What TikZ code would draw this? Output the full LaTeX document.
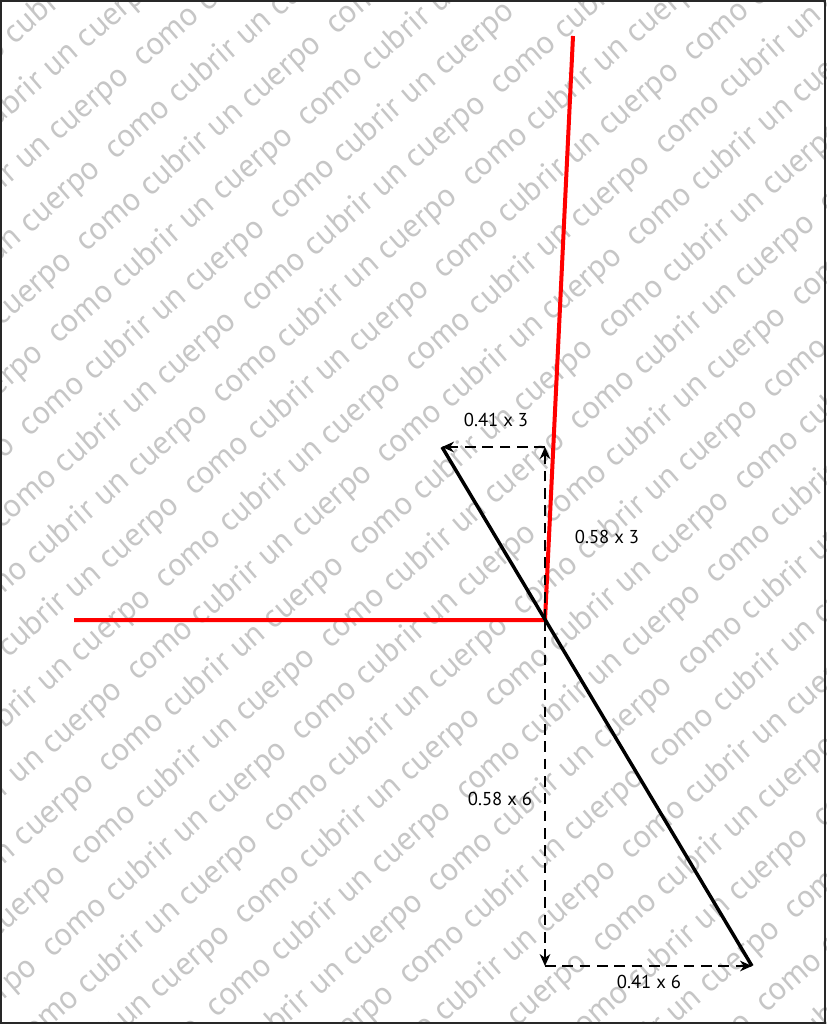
\documentclass[tikz,border=0pt]{standalone}
\usepackage{fontspec}
\setmainfont{PT Sans}
\usetikzlibrary{arrows.meta}

\definecolor{wmgray}{RGB}{198,198,198}
\definecolor{framegray}{RGB}{40,40,40}

\newcommand{\wmfont}{\fontsize{24.5}{28}\selectfont}
\newcommand{\wmunit}{como cubrir un cuerpo\ \ }
\newcommand{\wmrow}{\wmunit\wmunit\wmunit\wmunit\wmunit\wmunit\wmunit}
\newlength{\wmper}

\tikzset{
  redline/.style={draw=red, line width=3pt},
  vecline/.style={draw=black, line width=2.6pt},
  dimarrow/.style={draw=black, line width=1.2pt, dash pattern=on 8pt off 5pt, -{Stealth[length=9pt,width=8pt]}},
  dimlabel/.style={inner sep=0.75pt, font=\fontsize{14}{16}\selectfont},
  wmark/.style={text=wmgray, font=\wmfont, rotate=41, inner sep=0pt, anchor=base west}
}

\begin{document}
\settowidth{\wmper}{\wmfont\wmunit}%
\pgfmathsetmacro{\wmP}{max(\wmper/0.75,100)}%
\begin{tikzpicture}[x=0.75pt,y=0.75pt,yscale=-1,xscale=1]
\useasboundingbox (0,0) rectangle (826,1024);

% watermark
\begin{scope}
\clip (0,0) rectangle (826,1024);
\foreach \j in {-10,...,16} {
  \pgfmathsetmacro{\s}{-82*\j-\wmP*floor(-82*\j/\wmP)-3*\wmP}
  \node[wmark] (wm\j) at ({194+51*\j*0.6561+\s*0.7547},{497+51*\j*0.7547-\s*0.6561}) {\wmrow};
}
\end{scope}

% points
\coordinate (O) at (545,620);
\coordinate (redtop) at (573,36);
\coordinate (redleft) at (74,620);
\coordinate (vtop) at (442,447);
\coordinate (vbot) at (752,966);
\coordinate (ctop) at (545,447);
\coordinate (cbot) at (545,966);

% axes
\draw[redline] (redleft) -- (O) -- (redtop);
% vector
\draw[vecline] (vtop) -- (vbot);

% components
\draw[dimarrow] (O) -- (ctop);
\draw[dimarrow] (ctop) -- (vtop);
\draw[dimarrow] (O) -- (cbot);
\draw[dimarrow] (cbot) -- (vbot);

% labels
\node[dimlabel] (lxtop) at (496,420) {0.41 x 3};
\node[dimlabel] (lytop) at (607,537) {0.58 x 3};
\node[dimlabel] (lybot) at (500,799) {0.58 x 6};
\node[dimlabel] (lxbot) at (649,982) {0.41 x 6};

% frame
\draw[framegray, line width=1.5pt] (1,1) rectangle (825,1023);
\end{tikzpicture}
\end{document}
